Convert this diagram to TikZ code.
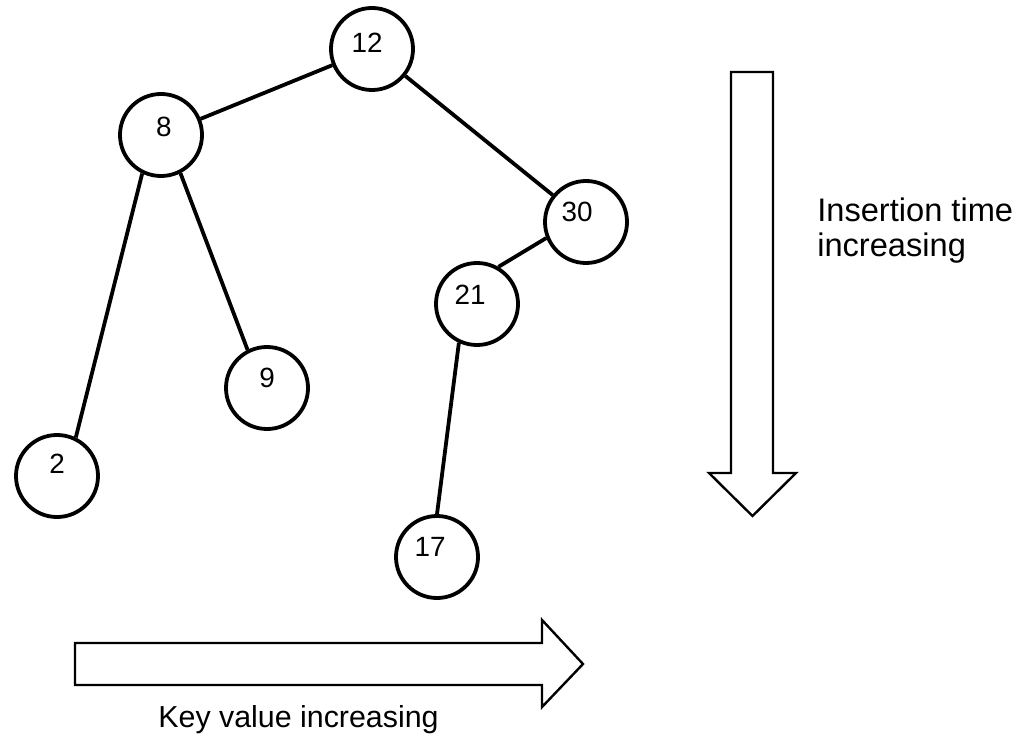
\documentclass[tikz,border=0pt]{standalone}
\usepackage{fontspec}
\setmainfont{Liberation Sans}
\begin{document}
\begin{tikzpicture}[x=0.025cm,y=-0.025cm,
  keynode/.style={circle,draw,line width=2.7pt,minimum size=2.05cm,inner sep=0pt},
  keylab/.style={font=\fontsize{19.8}{23}\selectfont,inner sep=0pt},
  edge/.style={line width=2.7pt},
  bigarrow/.style={draw,line width=1.7pt,fill=white,line join=miter},
  caption/.style={font=\fontsize{23.2}{26}\selectfont,inner sep=0pt},
  caption2/.style={font=\fontsize{21.6}{25}\selectfont,inner sep=0pt}]
\useasboundingbox (0,0) rectangle (1016,734);
% tree nodes
\node[keynode,label={[keylab,xshift=-0.125cm,yshift=0.15cm]center:12}] (n12) at (372,49) {};
\node[keynode,label={[keylab,xshift=0.07cm,yshift=0.2cm]center:8}] (n8) at (161,135) {};
\node[keynode,label={[keylab,xshift=-0.22cm,yshift=0.25cm]center:30}] (n30) at (586,222) {};
\node[keynode,label={[keylab,xshift=-0.175cm,yshift=0.23cm]center:21}] (n21) at (477,304) {};
\node[keynode,label={[keylab,xshift=0cm,yshift=0.25cm]center:9}] (n9) at (267,388) {};
\node[keynode,label={[keylab,xshift=0cm,yshift=0.3cm]center:2}] (n2) at (57,476) {};
\node[keynode,label={[keylab,xshift=-0.175cm,yshift=0.25cm]center:17}] (n17) at (437,557) {};
% edges
\draw[edge] (n8) -- (n12);
\draw[edge] (n12) -- (n30);
\draw[edge] (n30.202) -- (n21.60);
\draw[edge] (n8.-63) -- (n9.117);
\draw[edge] (n8.244) -- (n2.64);
\draw[edge] (n21.245) -- (n17.90);
% hollow arrows
\draw[bigarrow] (731,72) -- (773,72) -- (773,473) -- (796,473) -- (752.5,516) -- (709,473) -- (731,473) -- cycle;
\draw[bigarrow] (75,643) -- (542,643) -- (542,620) -- (583,664) -- (542,707) -- (542,685) -- (75,685) -- cycle;
% captions
\node[caption,anchor=base west] (tl1) at (817,222) {Insertion time};
\node[caption,anchor=base west] (tl2) at (817,257) {increasing};
\node[caption2,anchor=base] (kl) at (298.5,727) {Key value increasing};
\end{tikzpicture}
\end{document}
